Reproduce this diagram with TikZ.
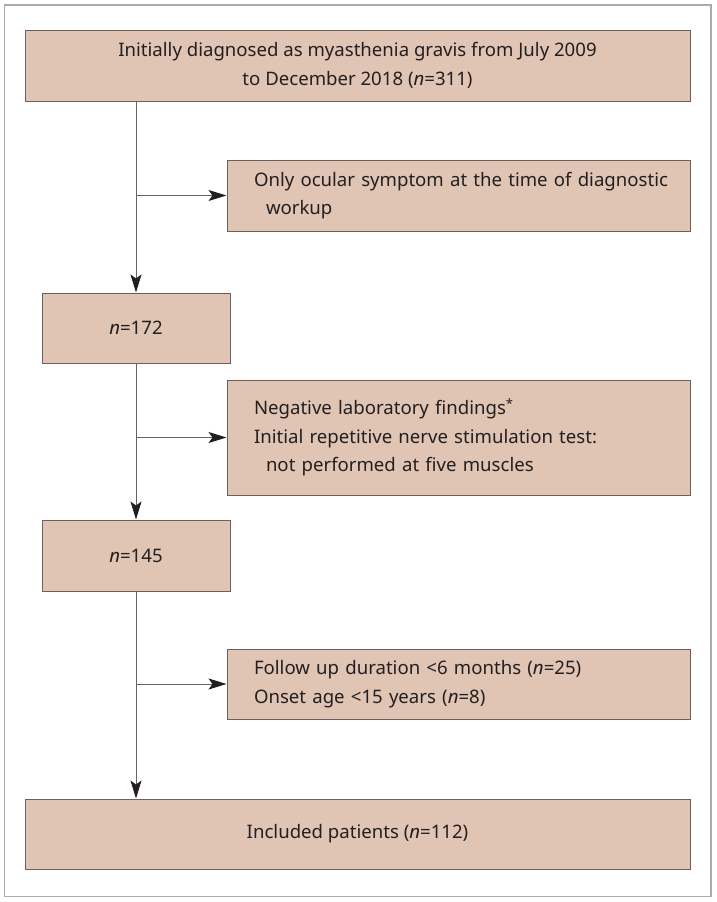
\documentclass[tikz,border=0pt]{standalone}
\usepackage{fontspec}
\setmainfont{Noto Sans}
\usetikzlibrary{arrows.meta}
\definecolor{boxfill}{HTML}{E0C4B4}
\definecolor{boxline}{HTML}{6E5F5A}
\definecolor{conn}{HTML}{6A6260}
\definecolor{txt}{HTML}{231F20}
\definecolor{frame}{HTML}{ABABAB}
\tikzset{
  box/.style={draw=boxline, line width=1pt, fill=boxfill, text=txt, inner sep=0pt,
     font=\fontsize{18.6}{28.5}\selectfont},
  sidebox/.style={box, minimum width=463pt, inner xsep=27pt, text width=409pt, align=left},
  conline/.style={draw=conn, line width=1pt},
  arr/.style={conline, -{Stealth[length=18pt,width=11pt,inset=4pt,fill=txt,color=txt]}},
}
\begin{document}
\begin{tikzpicture}[x=1pt,y=-1pt]
\useasboundingbox (0,0) rectangle (717,902);
\draw[frame, line width=1.6pt] (4.5,5) rectangle (711,896.5);

\node[box, minimum width=665pt, minimum height=71pt, align=center] (b1) at (357.5,65.5)
  {Initially diagnosed as myasthenia gravis from July 2009\\to December 2018 (\textit{n}=311)};
\node[sidebox, minimum height=71pt] (b2) at (458.5,195.5)
  {\mbox{Only ocular symptom at the time of diagnostic}\\\hspace*{12pt}workup};
\node[box, minimum width=188pt, minimum height=70pt] (b3) at (136,328) {\textit{n}=172};
\node[sidebox, minimum height=115pt] (b4) at (458.5,437.5)
  {Negative laboratory findings\textsuperscript{*}\\Initial repetitive nerve stimulation test:\\\hspace*{12pt}not performed at five muscles};
\node[box, minimum width=188pt, minimum height=71pt] (b5) at (136,555.5) {\textit{n}=145};
\node[sidebox, minimum height=70pt] (b6) at (458.5,684)
  {Follow up duration {<}6 months (\textit{n}=25)\\Onset age {<}15 years (\textit{n}=8)};
\node[box, minimum width=665pt, minimum height=70pt] (b7) at (357.5,834)
  {Included patients (\textit{n}=112)};

\coordinate (j1) at (b3.north |- b2.west);
\coordinate (j2) at (b3.north |- b4.west);
\coordinate (j3) at (b3.north |- b6.west);

\draw[arr] (b1.south -| b3.north) -- (b3.north);
\draw[arr] (j1) -- (b2.west);
\draw[arr] (b3.south) -- (b5.north);
\draw[arr] (j2) -- (b4.west);
\draw[arr] (b5.south) -- (b5.south |- b7.north);
\draw[arr] (j3) -- (b6.west);
\end{tikzpicture}
\end{document}
